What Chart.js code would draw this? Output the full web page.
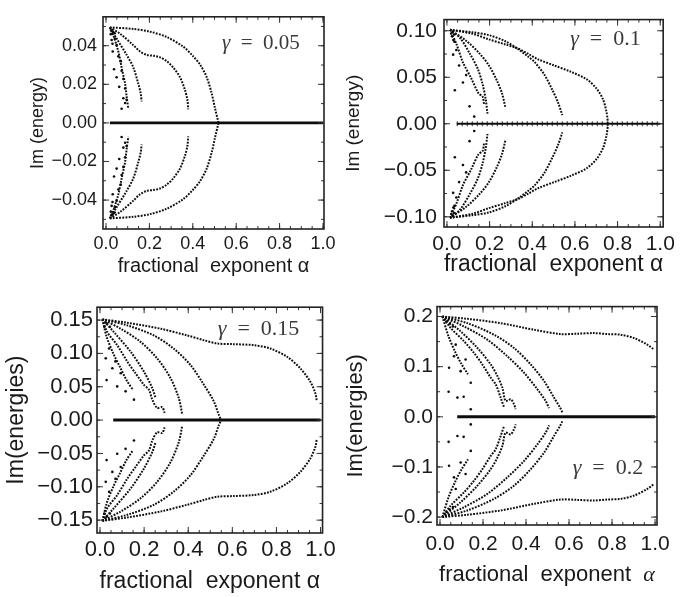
<!DOCTYPE html>
<html>
<head>
<meta charset="utf-8">
<script src="https://cdn.jsdelivr.net/npm/chart.js@4.4.1/dist/chart.umd.min.js"></script>
<style>
  body { margin: 0; background: #fff; width: 680px; height: 597px; position: relative; overflow: hidden; }
  canvas { position: absolute; }
</style>
</head>
<body>
<canvas id="p1" width="340" height="290" style="left:0;top:0"></canvas>
<canvas id="p2" width="340" height="290" style="left:340px;top:0"></canvas>
<canvas id="p3" width="340" height="307" style="left:0;top:290px"></canvas>
<canvas id="p4" width="340" height="307" style="left:340px;top:290px"></canvas>
<script>
// tick labels
const xTicks = [0.0, 0.2, 0.4, 0.6, 0.8, 1.0];
const yTicks1 = [-0.04, -0.02, 0.0, 0.02, 0.04];
const yTicks2 = [-0.10, -0.05, 0.0, 0.05, 0.10];
const yTicks3 = [-0.15, -0.10, -0.05, 0.0, 0.05, 0.10, 0.15];
const yTicks4 = [-0.2, -0.1, 0.0, 0.1, 0.2];

// gamma = 0.05 (upper branches, the picture is mirror symmetric about Im = 0)
const g05a = [[0.018,0.0495],[0.126,0.0487],[0.203,0.0473],[0.280,0.0445],[0.356,0.0395],[0.402,0.0345],[0.433,0.0303],[0.464,0.0237],[0.487,0.0153],[0.502,0.0078],[0.518,0.0003]];
const g05b = [[0.018,0.0495],[0.065,0.0462],[0.126,0.0403],[0.157,0.0370],[0.187,0.0353],[0.218,0.0348],[0.249,0.0340],[0.280,0.0320],[0.310,0.0287],[0.341,0.0237],[0.364,0.0170],[0.375,0.0120],[0.379,0.0070]];
const g05c = [[0.018,0.0495],[0.049,0.0437],[0.095,0.0353],[0.126,0.0287],[0.149,0.0203],[0.160,0.0153],[0.164,0.0112]];
const g05d = [[0.018,0.0495],[0.034,0.0453],[0.057,0.0370],[0.072,0.0287],[0.088,0.0203],[0.095,0.0137],[0.103,0.0073]];
const g05dots = [[0.034,0.047],[0.041,0.0437],[0.049,0.0403],[0.031,0.037],[0.057,0.0345],[0.068,0.032],[0.037,0.0278],[0.072,0.027],[0.049,0.0237],[0.080,0.0228],[0.061,0.0187],[0.088,0.0178],[0.080,0.0128],[0.095,0.012],[0.088,0.0103],[0.072,0.0073],[0.022,0.046],[0.026,0.043],[0.030,0.041],[0.024,0.048],[0.028,0.0475],[0.040,0.0465]];
const g05zero = [[0.018,0],[1.0,0]];

// gamma = 0.1
const g10a = [[0.014,0.101],[0.121,0.0967],[0.197,0.0907],[0.274,0.0853],[0.335,0.0807],[0.380,0.0753],[0.427,0.0693],[0.503,0.0627],[0.580,0.0560],[0.656,0.0477],[0.702,0.0377],[0.732,0.0260],[0.748,0.0127],[0.755,0.0010]];
const g10b = [[0.014,0.101],[0.121,0.0983],[0.197,0.0953],[0.274,0.0887],[0.335,0.0800],[0.380,0.0723],[0.411,0.0663],[0.457,0.0527],[0.495,0.0360],[0.521,0.0227],[0.541,0.0093]];
const g10c = [[0.014,0.101],[0.090,0.0893],[0.151,0.0760],[0.197,0.0627],[0.235,0.0460],[0.258,0.0327],[0.274,0.0177]];
const g10d = [[0.014,0.101],[0.060,0.0927],[0.106,0.0760],[0.144,0.0593],[0.167,0.0427],[0.182,0.0260],[0.190,0.0110]];
const g10e = [[0.020,0.098],[0.044,0.086],[0.075,0.066],[0.113,0.0493],[0.148,0.0327],[0.167,0.0293],[0.174,0.0210]];
const g10dots = [[0.029,0.0743],[0.057,0.0627],[0.037,0.036],[0.075,0.0443],[0.106,0.0187],[0.128,0.0077],[0.044,0.0793],[0.035,0.0883],[0.090,0.0523],[0.024,0.094],[0.030,0.090],[0.020,0.097],[0.026,0.099],[0.034,0.096]];
const g10zero = [[0.046,0],[1.0,0]];

// gamma = 0.15
const g15a = [[0.011,0.151],[0.124,0.146],[0.275,0.137],[0.395,0.127],[0.471,0.1198],[0.531,0.1149],[0.606,0.1139],[0.697,0.1124],[0.772,0.1074],[0.848,0.095],[0.908,0.0777],[0.953,0.0579],[0.976,0.0406],[0.983,0.0282]];
const g15b = [[0.011,0.151],[0.124,0.142],[0.244,0.127],[0.335,0.107],[0.410,0.0827],[0.471,0.053],[0.516,0.0282],[0.538,0.0084],[0.549,0.0]];
const g15c = [[0.011,0.151],[0.094,0.137],[0.184,0.1173],[0.259,0.0926],[0.320,0.0629],[0.357,0.0332],[0.373,0.0084]];
const g15d = [[0.011,0.151],[0.063,0.132],[0.139,0.1025],[0.199,0.0728],[0.237,0.048],[0.252,0.0332]];
const g15e = [[0.011,0.151],[0.033,0.132],[0.078,0.1124],[0.124,0.0876],[0.161,0.0703],[0.199,0.053],[0.222,0.0455],[0.237,0.0307],[0.259,0.0183],[0.282,0.0193],[0.293,0.0109]];
const g15f = [[0.011,0.151],[0.030,0.125],[0.060,0.100],[0.090,0.080],[0.120,0.060],[0.150,0.045]];
const g15dots = [[0.041,0.1074],[0.056,0.0777],[0.078,0.0505],[0.116,0.0431],[0.154,0.0307],[0.094,0.0703],[0.026,0.0926],[0.030,0.060],[0.070,0.088],[0.020,0.140],[0.030,0.145],[0.045,0.140]];
const g15zero = [[0.06,0],[1.0,0]];

// gamma = 0.2
const g20a = [[0.011,0.200],[0.127,0.1954],[0.282,0.1868],[0.437,0.1736],[0.561,0.165],[0.639,0.1657],[0.716,0.167],[0.778,0.165],[0.840,0.1637],[0.902,0.1571],[0.964,0.1439],[0.995,0.134]];
const g20b = [[0.011,0.200],[0.127,0.1868],[0.251,0.1637],[0.344,0.1373],[0.422,0.1043],[0.484,0.0713],[0.530,0.0383],[0.558,0.0185],[0.569,0.0086]];
const g20c = [[0.011,0.200],[0.112,0.1802],[0.220,0.1538],[0.313,0.1208],[0.391,0.0878],[0.453,0.0548],[0.491,0.0317],[0.507,0.0172]];
const g20d = [[0.011,0.200],[0.096,0.1703],[0.174,0.1373],[0.236,0.1043],[0.267,0.0812],[0.290,0.0581],[0.305,0.0317],[0.329,0.035],[0.344,0.0251],[0.352,0.0152]];
const g20e = [[0.011,0.200],[0.050,0.1769],[0.112,0.1505],[0.158,0.1274],[0.197,0.1043],[0.236,0.0779],[0.259,0.0647],[0.282,0.0383],[0.298,0.0185]];
const g20f = [[0.011,0.200],[0.040,0.160],[0.070,0.130],[0.100,0.105],[0.130,0.085]];
const g20dots = [[0.073,0.1439],[0.096,0.0911],[0.081,0.0383],[0.143,0.068],[0.143,0.0152],[0.119,0.1142],[0.042,0.0977],[0.065,0.1208],[0.040,0.050],[0.110,0.040],[0.030,0.190],[0.045,0.185],[0.060,0.180]];
const g20zero = [[0.08,0],[1.0,0]];

const INK = '#0d0d0d';
const SANS = '"Liberation Sans", Arial, sans-serif';

// box frame with inward ticks on all four sides, like the original plots
const frameTicks = {
  id: 'frameTicks',
  afterDraw(chart, args, o) {
    const { ctx, chartArea: a, scales: { x, y } } = chart;
    ctx.save();
    ctx.strokeStyle = '#333';
    ctx.lineWidth = 1;
    const mark = (px, len, vertical) => {
      ctx.beginPath();
      if (vertical) {
        ctx.moveTo(px, a.bottom); ctx.lineTo(px, a.bottom - len);
        ctx.moveTo(px, a.top); ctx.lineTo(px, a.top + len);
      } else {
        ctx.moveTo(a.left, px); ctx.lineTo(a.left + len, px);
        ctx.moveTo(a.right, px); ctx.lineTo(a.right - len, px);
      }
      ctx.stroke();
    };
    for (let v = 0; v <= 1.0001; v += 0.05) mark(x.getPixelForValue(v), 3, true);
    xTicks.forEach(v => mark(x.getPixelForValue(v), 6, true));
    const yt = o.yTicks;
    for (let v = yt[0] - 2 * o.yMinor; v <= yt[yt.length - 1] + 2 * o.yMinor; v += o.yMinor) {
      const p = y.getPixelForValue(v);
      if (p > a.top + 1 && p < a.bottom - 1) mark(p, 3, false);
    }
    yt.forEach(v => mark(y.getPixelForValue(v), 6, false));
    ctx.lineWidth = 1.6;
    ctx.strokeStyle = '#222';
    ctx.strokeRect(a.left, a.top, a.right - a.left, a.bottom - a.top);

    // gamma label
    const g = o.gamma;
    ctx.fillStyle = '#3a3a3a';
    ctx.textBaseline = 'middle';
    const rest = '\u2002=\u2002' + g.text;
    ctx.font = 'italic ' + g.size + 'px "Liberation Serif"';
    const w1 = ctx.measureText('γ').width;
    ctx.font = g.size + 'px "Liberation Serif"';
    const w2 = ctx.measureText(rest).width;
    const gx = x.getPixelForValue(g.x) - (w1 + w2) / 2;
    const gy = y.getPixelForValue(g.y);
    ctx.font = 'italic ' + g.size + 'px "Liberation Serif"';
    ctx.fillText('γ', gx, gy);
    ctx.font = g.size + 'px "Liberation Serif"';
    ctx.fillText(rest, gx + w1, gy);

    // x title drawn by hand when alpha has to be italic
    if (o.xTitle) {
      const t = o.xTitle;
      ctx.fillStyle = '#1a1a1a';
      ctx.font = t.size + 'px ' + SANS;
      const tw = ctx.measureText(t.text).width;
      ctx.font = 'italic ' + t.size + 'px "Liberation Serif"';
      const aw = ctx.measureText('α').width;
      const cx = (a.left + a.right) / 2 - (tw + aw) / 2;
      ctx.font = t.size + 'px ' + SANS;
      ctx.fillText(t.text, cx, t.y);
      ctx.font = 'italic ' + t.size + 'px "Liberation Serif"';
      ctx.fillText('α', cx + tw, t.y);
    }
    ctx.restore();
  }
};

function pts(arr, sign) {
  return arr.map(p => ({ x: p[0], y: sign * p[1] }));
}

function makePanel(id, p) {
  const datasets = [];
  p.curves.forEach(c => {
    [1, -1].forEach(s => datasets.push({
      data: pts(c, s), showLine: true, borderColor: INK, borderWidth: 2,
      borderDash: [1.8, 1.3], pointRadius: 0, tension: 0.3
    }));
  });
  [1, -1].forEach(s => datasets.push({
    data: pts(p.dots, s), showLine: false, pointRadius: 1.3,
    pointBackgroundColor: INK, pointBorderWidth: 0
  }));
  datasets.push({
    data: pts(p.zero, 1), showLine: true, borderColor: INK,
    borderWidth: p.zeroWidth, pointRadius: 0
  });
  if (p.zeroTicks) {
    // the gamma = 0.1 axis line is made of small crosses
    datasets.push({
      data: pts(p.zero, 1), showLine: true, borderColor: '#333',
      borderWidth: 5, borderDash: [1, 4], pointRadius: 0
    });
  }

  const tickFont = { family: SANS, size: p.tickSize };
  new Chart(document.getElementById(id), {
    type: 'scatter',
    data: { datasets },
    options: {
      responsive: false,
      animation: false,
      events: [],
      layout: { padding: { left: 0, right: p.padRight, top: p.padTop, bottom: 0 } },
      plugins: {
        legend: { display: false },
        tooltip: { enabled: false },
        frameTicks: { yTicks: p.yTicks, yMinor: p.yMinor, gamma: p.gamma, xTitle: p.xTitleItalic }
      },
      scales: {
        x: {
          type: 'linear', min: p.xMin, max: p.xMax,
          afterBuildTicks: s => { s.ticks = xTicks.map(v => ({ value: v })); },
          afterFit: s => { s.height = p.xHeight; },
          grid: { display: false, drawTicks: false }, border: { display: false },
          ticks: { font: tickFont, color: '#1a1a1a', padding: p.xPad, maxRotation: 0, autoSkip: false,
                   callback: v => v.toFixed(1) },
          title: { display: !!p.xTitle, text: p.xTitle || '', color: '#1a1a1a',
                   font: { family: SANS, size: p.xTitleSize },
                   padding: { top: 0, bottom: p.xTitleBottom } }
        },
        y: {
          type: 'linear', min: p.yMin, max: p.yMax,
          afterBuildTicks: s => { s.ticks = p.yTicks.map(v => ({ value: v })); },
          afterFit: s => { s.width = p.yWidth; },
          grid: { display: false, drawTicks: false }, border: { display: false },
          ticks: { font: tickFont, color: '#1a1a1a', padding: p.yPad, autoSkip: false,
                   callback: v => (v < 0 ? '\u2212' : '') + Math.abs(v).toFixed(p.yDigits) },
          title: { display: true, text: p.yTitle, color: '#1a1a1a',
                   font: { family: SANS, size: p.yTitleSize },
                   padding: { top: p.yTitleLeft, bottom: 0 } }
        }
      }
    },
    plugins: [frameTicks]
  });
}

makePanel('p1', {
  curves: [g05a, g05b, g05c, g05d], dots: g05dots, zero: g05zero, zeroWidth: 2.6,
  xMin: -0.0138, xMax: 1.0046, yMin: -0.055, yMax: 0.055,
  yTicks: yTicks1, yMinor: 0.01, yDigits: 2,
  padRight: 16, padTop: 9, xHeight: 61, yWidth: 103,
  tickSize: 18, xPad: 4, yPad: 6,
  xTitle: 'fractional  exponent α', xTitleSize: 20, xTitleBottom: 12,
  yTitle: 'Im (energy)', yTitleSize: 18, yTitleLeft: 27,
  gamma: { text: '0.05', x: 0.714, y: 0.041, size: 21 }
});

makePanel('p2', {
  curves: [g10a, g10b, g10c, g10d, g10e], dots: g10dots, zero: g10zero, zeroWidth: 2.2, zeroTicks: true,
  xMin: -0.0138, xMax: 1.0138, yMin: -0.111, yMax: 0.112,
  yTicks: yTicks2, yMinor: 0.025, yDigits: 2,
  padRight: 12, padTop: 4, xHeight: 63, yWidth: 104,
  tickSize: 21, xPad: 5, yPad: 7,
  xTitle: 'fractional  exponent α', xTitleSize: 23, xTitleBottom: 12,
  yTitle: 'Im (energy)', yTitleSize: 19, yTitleLeft: 2,
  gamma: { text: '0.1', x: 0.743, y: 0.091, size: 22 }
});

makePanel('p3', {
  curves: [g15a, g15b, g15c, g15d, g15e, g15f], dots: g15dots, zero: g15zero, zeroWidth: 3,
  xMin: -0.0136, xMax: 1.009, yMin: -0.1693, yMax: 0.1693,
  yTicks: yTicks3, yMinor: 0.025, yDigits: 2,
  padRight: 17, padTop: 15, xHeight: 64, yWidth: 97,
  tickSize: 22, xPad: 4, yPad: 4,
  xTitle: 'fractional  exponent α', xTitleSize: 23, xTitleBottom: 2,
  yTitle: 'Im(energies)', yTitleSize: 23, yTitleLeft: 3,
  gamma: { text: '0.15', x: 0.719, y: 0.1366, size: 22 }
});

makePanel('p4', {
  curves: [g20a, g20b, g20c, g20d, g20e, g20f], dots: g20dots, zero: g20zero, zeroWidth: 3,
  xMin: -0.014, xMax: 1.009, yMin: -0.2158, yMax: 0.2198,
  yTicks: yTicks4, yMinor: 0.05, yDigits: 1,
  padRight: 23, padTop: 15, xHeight: 72, yWidth: 97,
  tickSize: 21, xPad: 7, yPad: 4,
  xTitle: null, xTitleItalic: { text: 'fractional  exponent  ', size: 22, y: 285 },
  yTitle: 'Im(energies)', yTitleSize: 22, yTitleLeft: 3,
  gamma: { text: '0.2', x: 0.781, y: -0.103, size: 22 }
});
</script>
</body>
</html>
